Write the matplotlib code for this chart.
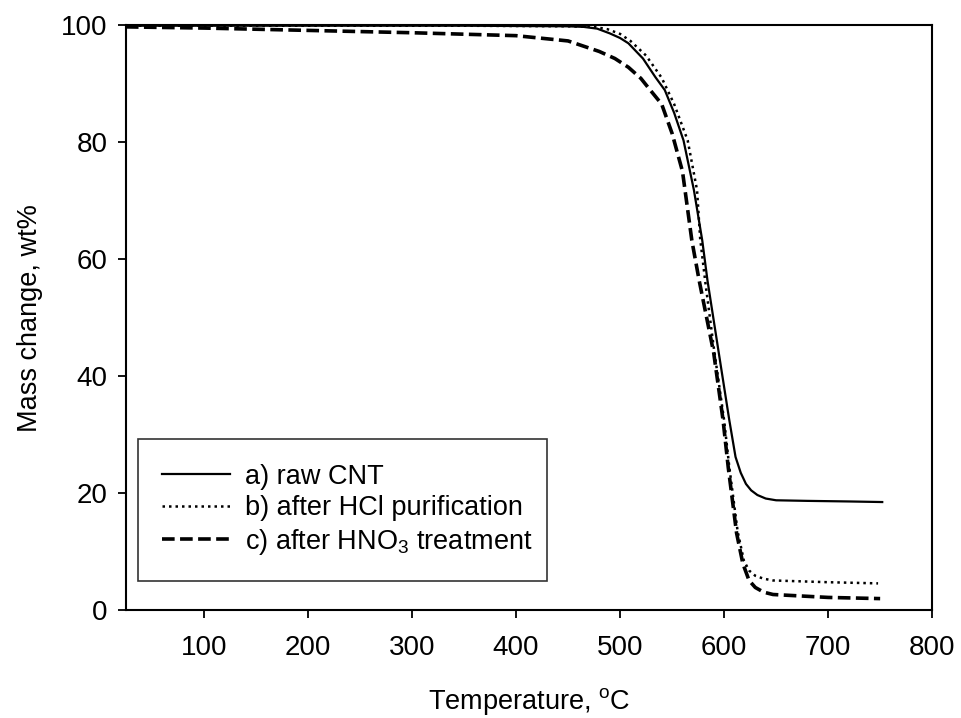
#!/usr/bin/env python3
"""TGA curves of CNT samples: mass change vs temperature."""

import matplotlib
matplotlib.use("Agg")
import matplotlib.pyplot as plt

plt.rcParams['font.family'] = ['Liberation Sans', 'DejaVu Sans']
plt.rcParams['mathtext.fontset'] = 'custom'
plt.rcParams['mathtext.rm'] = 'Liberation Sans'
plt.rcParams['mathtext.it'] = 'Liberation Sans:italic'

# a) raw CNT (solid)
temp_a = [25, 200, 350, 450, 465, 478, 490, 500, 508, 522, 534, 543, 552, 561,
          571, 579, 584, 594, 605, 611, 616, 621, 626, 632, 640, 650, 680, 720, 752]
mass_a = [99.9, 99.9, 99.9, 99.8, 99.7, 99.4, 98.6, 97.8, 96.9, 94.3, 91.1, 88.9,
          85.0, 80.3, 71.8, 63.2, 56.4, 45.0, 32.5, 26.2, 23.5, 21.6, 20.5, 19.7,
          19.1, 18.8, 18.7, 18.6, 18.5]

# b) after HCl purification (dotted)
temp_b = [25, 200, 350, 450, 475, 488, 500, 510, 525, 540, 552, 565, 574, 577,
          582, 590, 600, 605, 613, 619, 624, 630, 638, 647, 700, 748]
mass_b = [99.9, 99.9, 99.9, 99.8, 99.7, 99.3, 98.5, 97.3, 94.8, 91.0, 86.5, 80.3,
          71.8, 63.5, 56.0, 45.0, 32.5, 24.5, 13.5, 8.5, 6.8, 5.9, 5.4, 5.1, 4.8, 4.6]

# c) after HNO3 treatment (dashed)
temp_c = [25, 100, 200, 300, 400, 450, 480, 495, 508, 520, 529, 540, 550, 560,
          569, 576, 590, 599, 604, 612, 618, 624, 630, 638, 647, 700, 750]
mass_c = [99.7, 99.5, 99.1, 98.7, 98.2, 97.3, 95.5, 94.3, 92.8, 90.9, 88.9, 86.5,
          81.5, 75.0, 63.2, 56.4, 44.0, 32.5, 24.4, 13.2, 8.0, 5.1, 3.9, 3.1, 2.7,
          2.2, 2.0]

labels = ['a) raw CNT', 'b) after HCl purification', 'c) after HNO$_3$ treatment']
x_ticks = [100, 200, 300, 400, 500, 600, 700, 800]
y_ticks = [0, 20, 40, 60, 80, 100]

fig = plt.figure(figsize=(9.61, 7.18), dpi=100)
ax = fig.add_axes([0.131, 0.150, 0.839, 0.815])

ax.plot(temp_a, mass_a, color='black', linewidth=1.6, label=labels[0])
ax.plot(temp_b, mass_b, color='black', linewidth=1.8, linestyle=(0, (1, 1.6)),
        label=labels[1])
ax.plot(temp_c, mass_c, color='black', linewidth=2.6, linestyle=(0, (3.5, 1.5)),
        label=labels[2])

ax.set_xlim(25, 800)
ax.set_ylim(0, 100)
ax.set_xticks(x_ticks)
ax.set_yticks(y_ticks)
ax.tick_params(direction='out', length=6, width=1.3, labelsize=20, pad=7)
ax.tick_params(axis='x', pad=12)
for spine in ax.spines.values():
    spine.set_linewidth(1.5)

ax.set_xlabel('Temperature, $^{\\mathrm{o}}$C', fontsize=19.5, labelpad=18)
ax.set_ylabel('Mass change, wt%', fontsize=19.5, labelpad=13)

leg = ax.legend(loc='lower left', bbox_to_anchor=(0.015, 0.05, 0.507, 0.242),
                mode='expand', fontsize=19.5, frameon=True, fancybox=False,
                handlelength=2.5, handletextpad=0.55, labelspacing=0.2,
                borderpad=0.9, borderaxespad=0)
leg.get_frame().set_edgecolor('black')
leg.get_frame().set_linewidth(1.2)

fig.savefig('out.png', dpi=100)
